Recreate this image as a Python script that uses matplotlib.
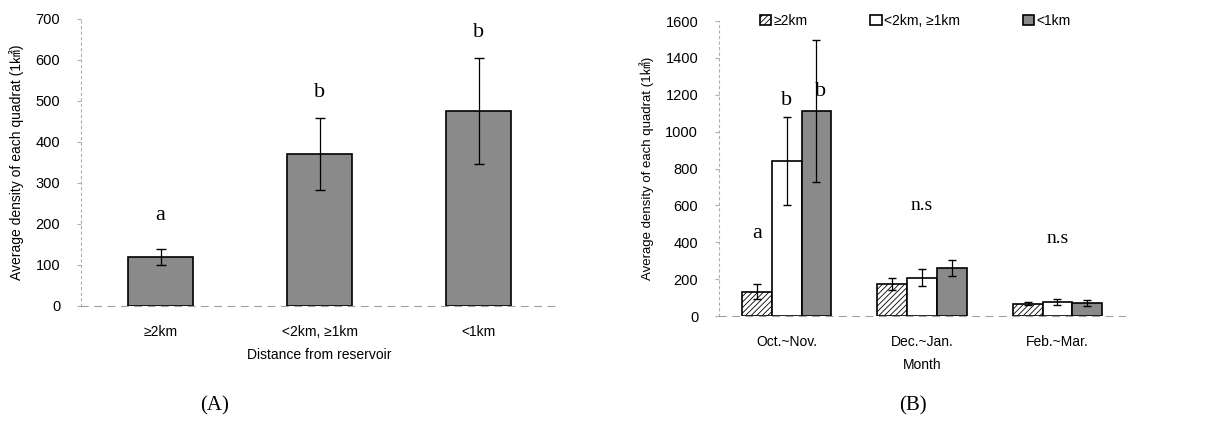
import numpy as np
import matplotlib.pyplot as plt

plt.rcParams['font.family'] = ['Liberation Sans', 'Noto Sans CJK KR', 'DejaVu Sans']
plt.rcParams['hatch.linewidth'] = 0.6

# (A) distancia al embalse
dist_labels = ['≥2km', '<2km, ≥1km', '<1km']
dist_mean = [120, 370, 476]
dist_err = [20, 88, 130]
dist_letters = ['a', 'b', 'b']
dist_letter_y = [220, 520, 666]

# (B) por mes
months = ['Oct.~Nov.', 'Dec.~Jan.', 'Feb.~Mar.']
series_labels = ['≥2km', '<2km, ≥1km', '<1km']
m_far = [132, 172, 67]
m_mid = [840, 208, 76]
m_near = [1112, 259, 70]
e_far = [40, 33, 10]
e_mid = [240, 45, 15]
e_near = [385, 43, 15]
oct_letters = ['a', 'b', 'b']
oct_letter_y = [450, 1171, 1215]
ns_y = [602, 423]

gris = '#8a8a8a'
ylab = 'Average density of each quadrat (1㎢)'

fig = plt.figure(figsize=(12.05, 4.21), dpi=100)

def estilo(ax):
    for s in ['top', 'right']:
        ax.spines[s].set_visible(False)
    ax.spines['left'].set_linestyle((0, (2, 3)))
    ax.spines['left'].set_color('#b0b0b0')
    ax.spines['left'].set_linewidth(0.8)
    ax.spines['bottom'].set_linestyle((0, (6, 6)))
    ax.spines['bottom'].set_color('#a0a0a0')
    ax.spines['bottom'].set_linewidth(0.8)
    ax.tick_params(axis='y', length=3, color='#b0b0b0', labelsize=10.5, pad=12)
    ax.tick_params(axis='x', length=0, labelsize=10, pad=14)

# Panel A
axA = fig.add_axes([0.0672, 0.2732, 0.396, 0.6817])
x = np.arange(len(dist_labels))
axA.bar(x, dist_mean, width=0.41, color=gris, edgecolor='black', linewidth=1.2)
axA.errorbar(x, dist_mean, yerr=dist_err, fmt='none', ecolor='black', elinewidth=0.9, capsize=3.5)
for i in range(len(x)):
    axA.text(x[i], dist_letter_y[i], dist_letters[i], ha='center', va='center',
             family='Liberation Serif', fontsize=16)
axA.set_xlim(-0.5, 2.5)
axA.set_ylim(0, 700)
axA.set_yticks(range(0, 701, 100))
axA.set_xticks(x)
axA.set_xticklabels(dist_labels)
estilo(axA)
axA.set_xlabel('Distance from reservoir', fontsize=10, labelpad=6)
axA.set_ylabel(ylab, fontsize=10, labelpad=8)

# Panel B
axB = fig.add_axes([0.5967, 0.2494, 0.337, 0.7007])
xb = np.arange(len(months))
w = 0.22
b1 = axB.bar(xb - w, m_far, width=w, color='white', edgecolor='black', hatch='//////', linewidth=1.2, label=series_labels[0])
b2 = axB.bar(xb, m_mid, width=w, color='white', edgecolor='black', linewidth=1.2, label=series_labels[1])
b3 = axB.bar(xb + w, m_near, width=w, color=gris, edgecolor='black', linewidth=1.2, label=series_labels[2])
axB.errorbar(xb - w, m_far, yerr=e_far, fmt='none', ecolor='black', elinewidth=0.9, capsize=3)
axB.errorbar(xb, m_mid, yerr=e_mid, fmt='none', ecolor='black', elinewidth=0.9, capsize=3)
axB.errorbar(xb + w, m_near, yerr=e_near, fmt='none', ecolor='black', elinewidth=0.9, capsize=3)
offs = [-w, 0, w + 0.03]
for i in range(3):
    axB.text(offs[i], oct_letter_y[i], oct_letters[i], ha='center', va='center',
             family='Liberation Serif', fontsize=16)
axB.text(1, ns_y[0], 'n.s', ha='center', va='center', family='Liberation Serif', fontsize=14)
axB.text(2, ns_y[1], 'n.s', ha='center', va='center', family='Liberation Serif', fontsize=14)
axB.set_xlim(-0.5, 2.5)
axB.set_ylim(0, 1600)
axB.set_yticks(range(0, 1601, 200))
axB.set_xticks(xb)
axB.set_xticklabels(months)
estilo(axB)
axB.set_xlabel('Month', fontsize=10, labelpad=6)
axB.set_ylabel(ylab, fontsize=9.5, labelpad=8)
axB.legend(handles=[b1, b2, b3], ncol=3, frameon=False, fontsize=10,
           loc='center left', bbox_to_anchor=(0.07, 1.0), handlelength=0.8,
           handleheight=0.8, handletextpad=0.2, columnspacing=4.5)

fig.text(0.178, 0.026, '(A)', ha='center', family='Liberation Serif', fontsize=15)
fig.text(0.758, 0.026, '(B)', ha='center', family='Liberation Serif', fontsize=15)

plt.savefig('out.png', dpi=100)
